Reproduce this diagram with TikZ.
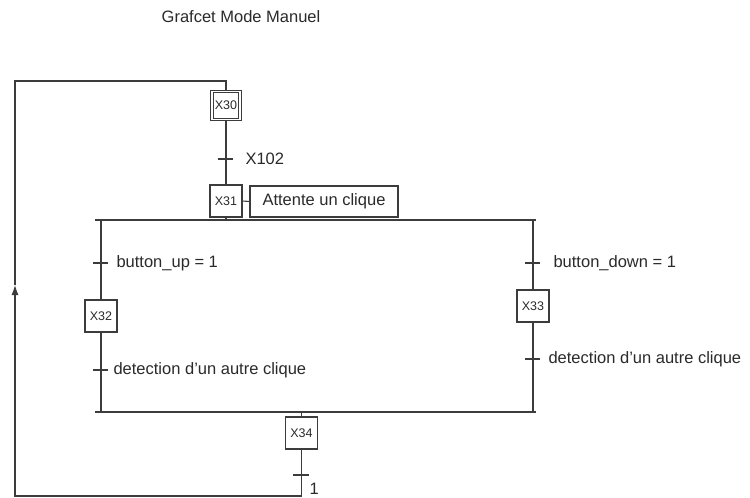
\documentclass[tikz,border=0pt]{standalone}
\usepackage{fontspec}
\setmainfont{Liberation Sans}
\usetikzlibrary{arrows.meta}
\definecolor{ink}{HTML}{3C3C3C}
\definecolor{txt}{HTML}{2A2A2A}
\begin{document}
\begin{tikzpicture}[x=1pt,y=-1pt,line width=1.1pt,color=ink,
  stepbox/.style={draw, minimum width=32pt, minimum height=32pt, inner sep=0pt, text=txt, font=\fontsize{12.5}{13}\selectfont},
  actbox/.style={draw, minimum width=148pt, minimum height=31pt, inner sep=0pt, text=txt, font=\fontsize{16.5}{17}\selectfont},
  lbl/.style={anchor=west, inner sep=0pt, text=txt, font=\fontsize{16.5}{17}\selectfont},
  titlelbl/.style={inner sep=0pt, text=txt, font=\fontsize{16.5}{17}\selectfont},
  uparrow/.style={-{Latex[length=10pt,width=7pt,fill=ink,color=ink]}}]
\useasboundingbox (0,0) rectangle (750,498);
\fill[white] (0,0) rectangle (750,498);

\node[titlelbl] (title) at (241,17) {Grafcet Mode Manuel};

% steps
\node[stepbox, double, double distance=1.6pt, minimum width=28pt, minimum height=28pt] (x30) at (226,105.5) {X30};
\node[stepbox] (x31) at (226,201) {X31};
\node[actbox] (act) at (324,201.5) {Attente un clique};
\node[stepbox] (x32) at (101,316) {X32};
\node[stepbox] (x33) at (533,306) {X33};
\node[stepbox] (x34) at (301.5,433) {X34};

% coordinates
\coordinate (t0) at (226,159);
\coordinate (t1) at (101,263);
\coordinate (t2) at (101,370);
\coordinate (t3) at (533,263);
\coordinate (t4) at (533,359);
\coordinate (t5) at (301.5,475);
\coordinate (divL) at (95,220);
\coordinate (divR) at (536,220);
\coordinate (convL) at (95,412);
\coordinate (convR) at (536,412);
\coordinate (tr) at (226,81);
\coordinate (tl) at (15,81);
\coordinate (bl) at (15,496);
\coordinate (br) at (301.5,496);
\coordinate (arr) at (15,285);
\coordinate (arrb) at (15,300);

% main links
\draw (x30.south) -- (x31.north);
\draw (x31.east) -- (act.west);
\draw (x31.south) -- (226,220);
\draw (divL) -- (divR);
\draw (convL) -- (convR);
\draw (101,220) -- (x32.north);
\draw (x32.south) -- (101,412);
\draw (533,220) -- (x33.north);
\draw (x33.south) -- (533,412);
\draw (301.5,412) -- (x34.north);

% loop back
\draw (x34.south) -- (br) -- (bl) -- (arrb);
\draw[uparrow] (arrb) -- (arr);
\draw (arr) -- (tl) -- (tr) -- (x30.north);

% transitions
\foreach \t in {t0,t1,t2,t3,t4,t5} { \draw (\t) ++(-8.5,0) -- ++(15.5,0); }

% labels
\node[lbl] (l0) at (245,159) {X102};
\node[lbl] (l1) at (116,263) {button\_up = 1};
\node[lbl] (l2) at (113,370) {detection d'un autre clique};
\node[lbl] (l3) at (553,263) {button\_down = 1};
\node[lbl] (l4) at (548,359) {detection d'un autre clique};
\node[lbl] (l5) at (309,488.5) {1};
\end{tikzpicture}
\end{document}
